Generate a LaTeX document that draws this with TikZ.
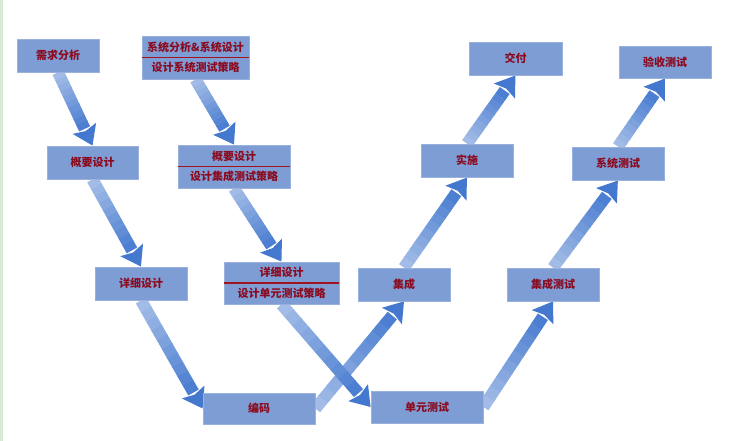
\documentclass[tikz,border=0pt]{standalone}
\usepackage{fontspec}
\newfontfamily\cjk{Noto Sans CJK SC}
\usetikzlibrary{backgrounds}
\definecolor{boxblue}{HTML}{7F9DD5}
\definecolor{boxedge}{HTML}{9AB1DD}
\definecolor{txtred}{HTML}{8B0A1E}
\definecolor{divred}{HTML}{A0141E}
\definecolor{arrlight}{HTML}{A2BCE7}
\definecolor{arrdark}{HTML}{4378CE}
\definecolor{stripgreen}{HTML}{D5EBD3}
\tikzset{
  stage/.style={fill=boxblue, draw=boxedge, line width=0.8pt, inner sep=0pt,
    minimum height=33pt, text=txtred, font=\cjk\bfseries\fontsize{11}{13}\selectfont},
  lbl/.style={inner sep=0pt, text=txtred, font=\cjk\bfseries\fontsize{11}{13}\selectfont},
  divider/.style={draw=divred, line width=1.6pt},
}
\newcommand\blockarr[4]{%
  \pgfpointdiff{\pgfpointanchor{#1}{#2}}{\pgfpointanchor{#3}{#4}}%
  \pgfgetlastxy\arrdx\arrdy
  \pgfmathsetmacro\arrang{atan2(\arrdy,\arrdx)}%
  \pgfmathsetmacro\arrlen{veclen(\arrdx,\arrdy)}%
  \pgfmathsetmacro\arrshaft{\arrlen-19}%
  \begin{scope}[shift={(#1.#2)},rotate=\arrang]
    \foreach \i in {0,...,9}{%
      \pgfmathsetmacro\pa{\arrshaft*\i/10}%
      \pgfmathsetmacro\pb{\arrshaft*(\i+1)/10+0.6}%
      \pgfmathtruncatemacro\mix{100-\i*10}%
      \fill[arrlight!\mix!arrdark] (\pa,-6) rectangle (\pb,6);
    }
    \fill[arrdark] (\arrshaft,-13) -- (\arrlen,0) -- (\arrshaft,13) -- (\arrshaft+3,0) -- cycle;
  \end{scope}}
\begin{document}
\begin{tikzpicture}[x=1pt,y=-1pt]
\useasboundingbox (0,0) rectangle (742,441);
\fill[stripgreen] (0,0) rectangle (3,441);

% left branch
\node[stage, minimum width=82pt]  (req)  at (58,55.5) {需求分析};
\node[stage, minimum width=107pt, minimum height=43pt] (sys) at (195.5,57.5) {};
\node[lbl] (systop) at ([yshift=10.5pt]sys.center) {系统分析\&系统设计};
\node[lbl] (sysbot) at ([yshift=-10pt]sys.center) {设计系统测试策略};
\draw[divider] (sys.west) -- (sys.east);

\node[stage, minimum width=91pt]  (gy1)  at (92.5,162.5) {概要设计};
\node[stage, minimum width=112pt, minimum height=43pt] (gy2) at (234,166.5) {};
\node[lbl] (gytop) at ([yshift=10.5pt]gy2.center) {概要设计};
\node[lbl] (gybot) at ([yshift=-10pt]gy2.center) {设计集成测试策略};
\draw[divider] (gy2.west) -- (gy2.east);

\node[stage, minimum width=92pt]  (xx1)  at (141,283.5) {详细设计};
\node[stage, minimum width=115pt, minimum height=42pt] (xx2) at (281.5,283) {};
\node[lbl] (xxtop) at ([yshift=10.5pt]xx2.center) {详细设计};
\node[lbl] (xxbot) at ([yshift=-10pt]xx2.center) {设计单元测试策略};
\draw[divider] (xx2.west) -- (xx2.east);

\node[stage, minimum width=112pt, minimum height=31pt] (code) at (259,408.5) {编码};
\node[stage, minimum width=112pt, minimum height=32pt] (unit) at (427,407) {单元测试};

% right branch
\node[stage, minimum width=92pt]  (integ)   at (404,284.5) {集成};
\node[stage, minimum width=92pt]  (itest)   at (553,284.5) {集成测试};
\node[stage, minimum width=92pt]  (impl)    at (467,160.5) {实施};
\node[stage, minimum width=92pt]  (stest)   at (618,163.5) {系统测试};
\node[stage, minimum width=93pt]  (deliver) at (515.5,58.5) {交付};
\node[stage, minimum width=92pt, minimum height=32pt] (accept) at (665,62) {验收测试};

\begin{pgfonlayer}{background}
\blockarr{req}{south}{gy1}{north}
\blockarr{sys}{south}{gy2}{north}
\blockarr{gy1}{south}{xx1}{north}
\blockarr{gy2}{south}{xx2}{north}
\blockarr{xx1}{south}{code}{west}
\blockarr{code}{east}{integ}{south}
\blockarr{xx2}{south}{unit}{west}
\blockarr{unit}{east}{itest}{south}
\blockarr{integ}{north}{impl}{south}
\blockarr{impl}{north}{deliver}{south}
\blockarr{itest}{north}{stest}{south}
\blockarr{stest}{north}{accept}{south}
\end{pgfonlayer}
\end{tikzpicture}
\end{document}
